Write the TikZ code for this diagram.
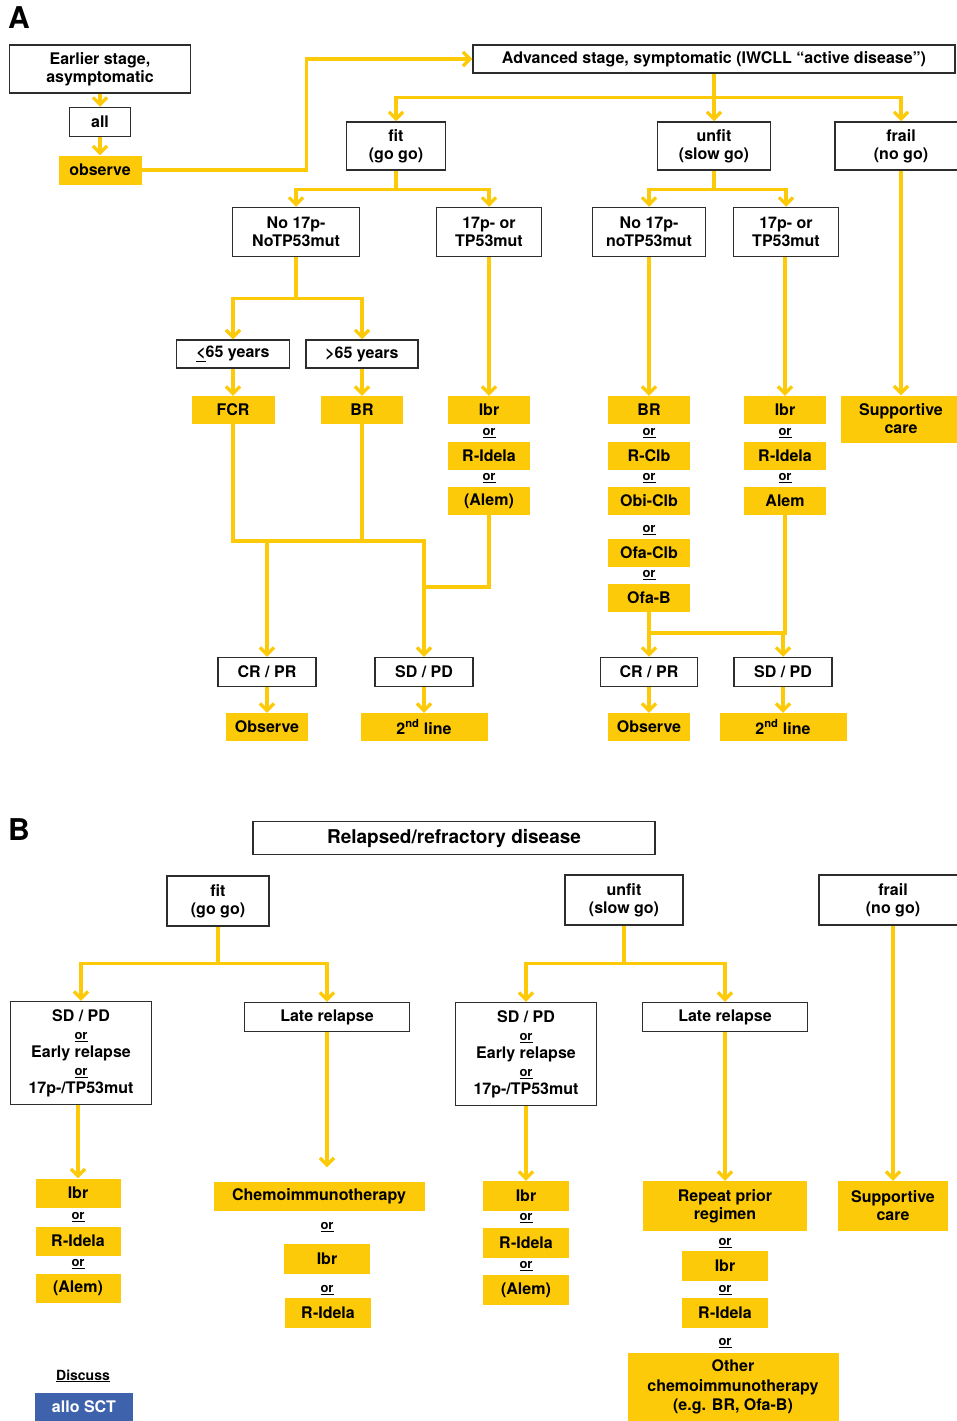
\documentclass[tikz,border=0pt]{standalone}
\usepackage{fontspec}
\setmainfont{TeX Gyre Heros}
\usepackage{tikz}
\usetikzlibrary{arrows.meta,calc}
\definecolor{cllyellow}{RGB}{252,202,8}
\definecolor{cllblue}{RGB}{62,98,172}
\definecolor{cllgrey}{RGB}{45,45,45}
\newcommand{\ortxt}{{\fontsize{13}{14}\selectfont\underline{or}}}
\tikzset{
    base/.style={inner sep=0pt,align=center,font=\fontsize{16}{18}\selectfont\bfseries},
    wbox/.style={base,draw=cllgrey,line width=1.5pt,fill=white},
    ybox/.style={base,fill=cllyellow},
    sz/.style 2 args={minimum width=#1pt,minimum height=#2pt},
    ortext/.style={inner sep=0pt,font=\fontsize{13}{14}\selectfont\bfseries},
    panel/.style={inner sep=0pt,font=\fontsize{30}{32}\selectfont\bfseries},
    line/.style={draw=cllyellow,line width=3.3pt},
    link/.style={line,->}}

\begin{document}
\begin{tikzpicture}[x=1pt,y=-1pt,>={Straight Barb[length=7pt,width=14pt]}]
\useasboundingbox (0,0) rectangle (957,1421);

% ---------------- A: first line ----------------
\node[panel] (labA) at (19,18) {A};
\node[wbox,sz={181}{48}] (early) at (100,69) {Earlier stage,\\asymptomatic};
\node[wbox,sz={61}{29}] (all) at (100,122) {all};
\node[ybox,sz={83}{29}] (obs) at (100,170) {observe};
\node[wbox,sz={482}{28}] (adv) at (714,59) {Advanced stage, symptomatic (IWCLL “active disease”)};
\draw[link] (early) -- (all);
\draw[link] (all) -- (obs);
\draw[link] (obs.east) -- ++(165,0) |- (adv.west);

\node[wbox,sz={99}{48}] (fitA) at (396,146) {fit\\(go go)};
\node[wbox,sz={113}{48}] (unfitA) at (714,146) {unfit\\(slow go)};
\node[wbox,sz={132}{48}] (frailA) at (901,146) {frail\\(no go)};
\draw[link] (adv.south) -- ++(0,24) -| (fitA.north);
\draw[link] (adv.south) -- (unfitA.north);
\draw[link] (adv.south) -- ++(0,24) -| (frailA.north);

\node[wbox,sz={127}{49}] (no17a) at (296,232) {No 17p-\\NoTP53mut};
\node[wbox,sz={105}{49}] (p17a) at (489,232) {17p- or\\TP53mut};
\node[wbox,sz={113}{49}] (no17u) at (649,232) {No 17p-\\noTP53mut};
\node[wbox,sz={105}{49}] (p17u) at (786,232) {17p- or\\TP53mut};
\draw[link] (fitA.south) -- ++(0,19) -| (no17a.north);
\draw[link] (fitA.south) -- ++(0,19) -| (p17a.north);
\draw[link] (unfitA.south) -- ++(0,19) -| (no17u.north);
\draw[link] (unfitA.south) -- ++(0,19) -| (p17u.north);

% fit branch
\node[wbox,sz={113}{28}] (young) at (233,354) {\underline{<}65 years};
\node[wbox,sz={112}{28}] (old) at (362,354) {>65 years};
\draw[link] (no17a.south) -- ++(0,41) -| (young.north);
\draw[link] (no17a.south) -- ++(0,41) -| (old.north);
\node[ybox,sz={83}{28}] (fcr) at (233,410) {FCR};
\node[ybox,sz={82}{28}] (brA) at (362,410) {BR};
\draw[link] (young) -- (fcr);
\draw[link] (old) -- (brA);

\node[ybox,sz={82}{28}] (ibrA) at (489,410) {Ibr};
\node[ortext] (orA1) at (489,433) {\underline{or}};
\node[ybox,sz={82}{28}] (ridA) at (489,456) {R-Idela};
\node[ortext] (orA2) at (489,478) {\underline{or}};
\node[ybox,sz={82}{28}] (alemA) at (489,501) {(Alem)};
\draw[link] (p17a) -- (ibrA);

\node[wbox,sz={98}{29}] (crprA) at (267,672) {CR / PR};
\node[wbox,sz={98}{29}] (sdpdA) at (424,672) {SD / PD};
\node[ybox,sz={82}{28}] (obsA) at (267,727) {Observe};
\node[ybox,sz={127}{28}] (lineA) at (424,727) {2\textsuperscript{nd} line};
\coordinate (mA) at (267,541);
\coordinate (jA) at (424,587);
\draw[link] (fcr.south) |- (sdpdA.north |- mA) -- (sdpdA.north);
\draw[line] (brA.south) -- (brA.south |- mA);
\draw[link] (mA) -- (crprA.north);
\draw[line] (alemA.south) |- (jA);
\draw[link] (crprA) -- (obsA);
\draw[link] (sdpdA) -- (lineA);

% unfit branch
\node[ybox,sz={82}{28}] (brU) at (649,410) {BR};
\node[ortext] (orU1) at (649,433) {\underline{or}};
\node[ybox,sz={82}{28}] (rclbU) at (649,456) {R-Clb};
\node[ortext] (orU2) at (649,478) {\underline{or}};
\node[ybox,sz={82}{28}] (obiU) at (649,501) {Obi-Clb};
\node[ortext] (orU3) at (649,530) {\underline{or}};
\node[ybox,sz={82}{28}] (ofaclbU) at (649,553) {Ofa-Clb};
\node[ortext] (orU4) at (649,575) {\underline{or}};
\node[ybox,sz={82}{28}] (ofabU) at (649,598) {Ofa-B};
\draw[link] (no17u) -- (brU);

\node[ybox,sz={82}{28}] (ibrU) at (785,410) {Ibr};
\node[ortext] (orU5) at (785,433) {\underline{or}};
\node[ybox,sz={82}{28}] (ridU) at (785,456) {R-Idela};
\node[ortext] (orU6) at (785,478) {\underline{or}};
\node[ybox,sz={82}{28}] (alemU) at (785,501) {Alem};
\draw[link] (p17u.south -| ibrU) -- (ibrU.north);

\node[wbox,sz={97}{29}] (crprU) at (649,672) {CR / PR};
\node[wbox,sz={98}{29}] (sdpdU) at (783,672) {SD / PD};
\node[ybox,sz={82}{28}] (obsU) at (649,727) {Observe};
\node[ybox,sz={127}{28}] (lineU) at (783,727) {2\textsuperscript{nd} line};
\coordinate (jU) at (783,633);
\draw[link] (ofabU) -- (crprU);
\draw[line] (ofabU.south |- jU) -- (jU);
\draw[line] (alemU.south) -- (alemU.south |- jU) -- (jU);
\draw[link] (jU) -- (sdpdU.north);
\draw[link] (crprU) -- (obsU);
\draw[link] (sdpdU) -- (lineU);

\node[ybox,sz={120}{47}] (suppA) at (901,419) {Supportive\\care};
\draw[link] (frailA) -- (suppA);

% ---------------- B: relapsed ----------------
\node[panel] (labB) at (19,830) {B};
\node[wbox,sz={402}{33},font=\fontsize{19}{22}\selectfont\bfseries] (relapsed) at (454,838) {Relapsed/refractory disease};
\node[wbox,sz={102}{50}] (fitB) at (218,901) {fit\\(go go)};
\node[wbox,sz={118}{50}] (unfitB) at (624,900) {unfit\\(slow go)};
\node[wbox,sz={148}{50}] (frailB) at (893,900) {frail\\(no go)};

\node[wbox,sz={141}{103}] (earlyB1) at (81,1053) {SD / PD\\\ortxt\\Early relapse\\\ortxt\\17p-/TP53mut};
\node[wbox,sz={165}{29}] (lateB1) at (327,1017) {Late relapse};
\node[wbox,sz={141}{103}] (earlyB2) at (526,1054) {SD / PD\\\ortxt\\Early relapse\\\ortxt\\17p-/TP53mut};
\node[wbox,sz={165}{29}] (lateB2) at (725,1017) {Late relapse};
\draw[link] (fitB.south) -- ++(0,37) -| (earlyB1.north);
\draw[link] (fitB.south) -- ++(0,37) -| (lateB1.north);
\draw[link] (unfitB.south) -- ++(0,38) -| (earlyB2.north);
\draw[link] (unfitB.south) -- ++(0,38) -| (lateB2.north);

\node[ybox,sz={85}{29}] (ibrB1) at (78,1193) {Ibr};
\node[ortext] (orB1) at (78,1217) {\underline{or}};
\node[ybox,sz={85}{29}] (ridB1) at (78,1241) {R-Idela};
\node[ortext] (orB2) at (78,1264) {\underline{or}};
\node[ybox,sz={85}{29}] (alemB1) at (78,1288) {(Alem)};
\draw[link] (earlyB1.south -| ibrB1) -- (ibrB1.north);

\node[ybox,sz={211}{29}] (chemoB) at (319,1196) {Chemoimmunotherapy};
\node[ortext] (orB3) at (327,1227) {\underline{or}};
\node[ybox,sz={86}{30}] (ibrB2) at (327,1259) {Ibr};
\node[ortext] (orB4) at (327,1290) {\underline{or}};
\node[ybox,sz={86}{30}] (ridB2) at (328,1313) {R-Idela};
\draw[link,shorten >=14pt] (lateB1.south) -- (lateB1.south |- chemoB.north);

\node[inner sep=0pt,font=\fontsize{14}{16}\selectfont\bfseries] (discuss) at (83,1376) {\underline{Discuss}};
\node[base,sz={98}{28},fill=cllblue,text=white] (allo) at (84,1407) {allo SCT};

\node[ybox,sz={86}{30}] (ibrB3) at (526,1196) {Ibr};
\node[ortext] (orB5) at (526,1218) {\underline{or}};
\node[ybox,sz={86}{30}] (ridB3) at (526,1243) {R-Idela};
\node[ortext] (orB6) at (526,1266) {\underline{or}};
\node[ybox,sz={86}{30}] (alemB3) at (526,1290) {(Alem)};
\draw[link] (earlyB2) -- (ibrB3);

\node[ybox,sz={164}{50}] (repeatB) at (725,1206) {Repeat prior\\regimen};
\node[ortext] (orB7) at (725,1243) {\underline{or}};
\node[ybox,sz={86}{30}] (ibrB4) at (725,1266) {Ibr};
\node[ortext] (orB8) at (725,1290) {\underline{or}};
\node[ybox,sz={86}{30}] (ridB4) at (725,1313) {R-Idela};
\node[ortext] (orB9) at (725,1343) {\underline{or}};
\node[ybox,sz={211}{69},font=\fontsize{16}{19.5}\selectfont\bfseries] (otherB) at (733,1387) {Other\\chemoimmunotherapy\\(e.g. BR, Ofa-B)};
\draw[link] (lateB2) -- (repeatB);

\node[ybox,sz={110}{50}] (suppB) at (893,1206) {Supportive\\care};
\draw[link] (frailB) -- (suppB);
\end{tikzpicture}
\end{document}
